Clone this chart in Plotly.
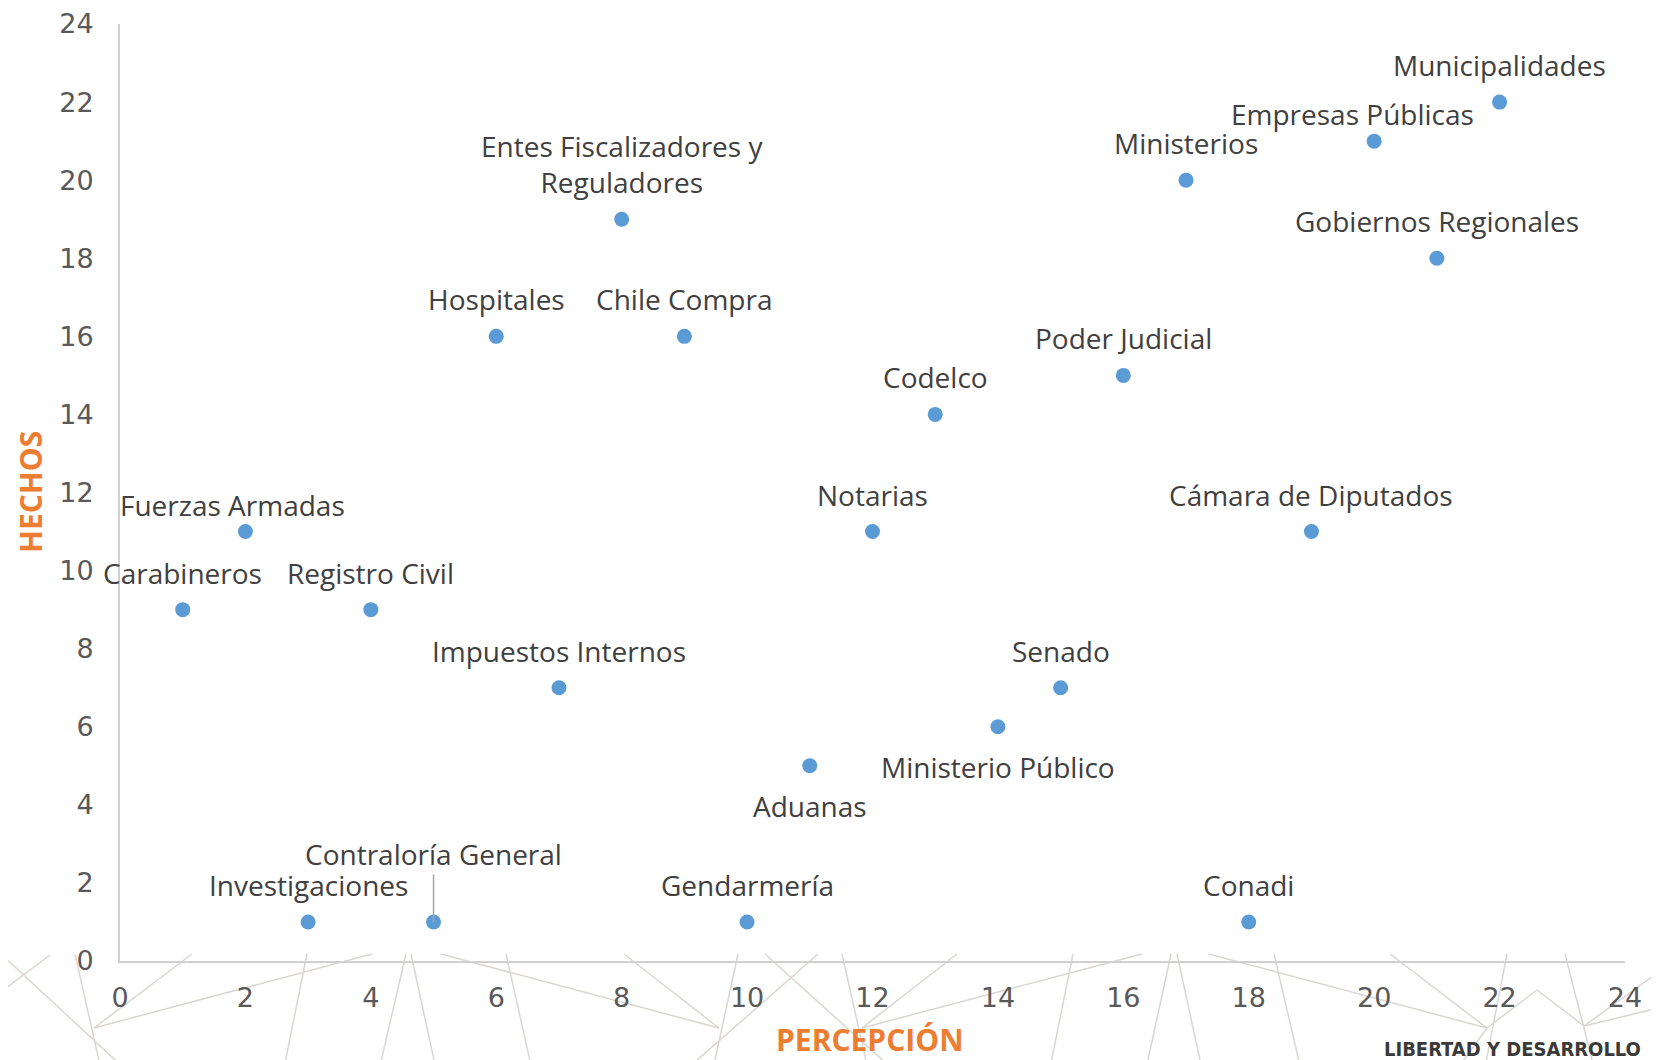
import plotly.graph_objects as go

# ---- data ----
names = ["Municipalidades", "Empresas Públicas", "Ministerios",
         "Entes Fiscalizadores y<br>Reguladores", "Gobiernos Regionales",
         "Hospitales", "Chile Compra", "Poder Judicial", "Codelco",
         "Fuerzas Armadas", "Notarias", "Cámara de Diputados",
         "Carabineros", "Registro Civil", "Impuestos Internos", "Senado",
         "Ministerio Público", "Aduanas", "Investigaciones",
         "Contraloría General", "Gendarmería", "Conadi"]
percepcion = [22, 20, 17, 8, 21, 6, 9, 16, 13, 2, 12, 19, 1, 4, 7, 15, 14, 11, 3, 5, 10, 18]
hechos = [22, 21, 20, 19, 18, 16, 16, 15, 14, 11, 11, 11, 9, 9, 7, 7, 6, 5, 1, 1, 1, 1]
x_ticks = list(range(0, 25, 2))
y_ticks = list(range(0, 25, 2))

# ---- layout constants ----
W, H = 1659, 1060
ML, MR, MT, MB = 112, 42, 16, 107
PW, PH = W - ML - MR, H - MT - MB

def px(x):
    return (x - ML) / PW

def py(y):
    return (H - MB - y) / PH

LABEL_FONT = dict(family="Open Sans, Noto Sans, sans-serif", size=28, color="#404040")
# label offsets (xshift, yshift) in pixels
default_off = (0, 37)
special_off = {
    "Fuerzas Armadas": (-13, 27),
    "Empresas Públicas": (-22, 27),
    "Ministerio Público": (0, -40),
    "Aduanas": (0, -40),
    "Entes Fiscalizadores y<br>Reguladores": (0, 55),
}

fig = go.Figure()
fig.add_trace(go.Scatter(
    x=percepcion, y=hechos, mode="markers",
    marker=dict(color="#5B9BD5", size=15, line=dict(width=0)),
    hoverinfo="text", text=names, showlegend=False, cliponaxis=False,
))

annotations = []
for n, xv, yv in zip(names, percepcion, hechos):
    if n == "Contraloría General":
        annotations.append(dict(
            x=xv, y=yv, xref="x", yref="y", text=n, showarrow=True,
            arrowhead=0, arrowwidth=1.5, arrowcolor="#A6A6A6",
            ax=0, ay=-68, standoff=0, font=LABEL_FONT))
        continue
    dx, dy = special_off.get(n, default_off)
    annotations.append(dict(
        x=xv, y=yv, xref="x", yref="y", text=n, showarrow=False,
        xshift=dx, yshift=dy, font=LABEL_FONT))

# axis titles
annotations.append(dict(
    x=px(22), y=py(484), xref="paper", yref="paper", text="<b>HECHOS</b>",
    textangle=-90, showarrow=False, xanchor="center", yanchor="middle",
    font=dict(family="Open Sans, sans-serif", size=30, color="#ED7D31")))
annotations.append(dict(
    x=px(862), y=py(1031), xref="paper", yref="paper", text="<b>PERCEPCIÓN</b>",
    showarrow=False, xanchor="center", yanchor="middle",
    font=dict(family="Open Sans, sans-serif", size=30, color="#ED7D31")))
# logo text
annotations.append(dict(
    x=px(1374), y=py(1027), xref="paper", yref="paper",
    text="<b>LIBERTAD Y DESARROLLO</b>", showarrow=False,
    xanchor="left", yanchor="top",
    font=dict(family="Liberation Sans Narrow, DejaVu Sans Condensed, Open Sans, sans-serif",
              size=20, color="#3A3A3A")))

# decorative background mesh (pixel coordinates)
DX, DY = -6, -5
deco = [
    ((0, 952), (138, 1060)), ((48, 952), (0, 988)), ((92, 1025), (190, 951)),
    ((92, 1025), (370, 951)), ((73, 951), (102, 1060)), ((305, 951), (279, 1060)),
    ((404, 951), (374, 1060)), ((409, 951), (437, 1060)), ((439, 951), (717, 1025)),
    ((504, 951), (533, 1060)), ((622, 951), (717, 1025)), ((736, 951), (708, 1060)),
    ((816, 951), (669, 1060)), ((763, 951), (906, 1060)), ((840, 951), (869, 1060)),
    ((955, 951), (860, 1025)), ((860, 1025), (1140, 951)), ((1071, 951), (1045, 1060)),
    ((1169, 951), (1141, 1060)), ((1175, 951), (1203, 1060)), ((1207, 951), (1485, 1025)),
    ((1272, 951), (1302, 1060)), ((1388, 951), (1485, 1025)), ((1505, 951), (1480, 1060)),
    ((1485, 1025), (1535, 987)), ((1535, 987), (1582, 1023)), ((1563, 951), (1596, 1060)),
    ((1582, 1023), (1665, 963)), ((1582, 1023), (1665, 1003)), ((1485, 1025), (1445, 1060)),
]
shapes = []
for (x0, y0), (x1, y1) in deco:
    y0e = y0 + DY if y0 < 1060 else 1075
    y1e = y1 + DY if y1 < 1060 else 1075
    shapes.append(dict(type="line", xref="paper", yref="paper",
                       x0=px(x0 + DX), y0=py(y0e), x1=px(x1 + DX), y1=py(y1e),
                       line=dict(color="#DAD6D2", width=1.5), layer="below"))

TICK_FONT = dict(family="DejaVu Sans, sans-serif", size=27, color="#595959")
fig.update_layout(
    width=W, height=H,
    margin=dict(l=ML, r=MR, t=MT, b=MB, autoexpand=False),
    paper_bgcolor="white", plot_bgcolor="rgba(0,0,0,0)",
    annotations=annotations, shapes=shapes,
    xaxis=dict(range=[0, 24], tickvals=x_ticks, ticktext=[str(v) for v in x_ticks],
               showgrid=False, zeroline=False, showline=True,
               linecolor="#D0D0D0", linewidth=2, ticks="outside", ticklen=12,
               tickcolor="rgba(0,0,0,0)", tickfont=TICK_FONT, fixedrange=True,
               ticklabeloverflow="allow"),
    yaxis=dict(range=[0, 24], tickvals=y_ticks, ticktext=[str(v) for v in y_ticks],
               showgrid=False, zeroline=False, showline=True,
               linecolor="#D0D0D0", linewidth=2, ticks="outside", ticklen=19,
               tickcolor="rgba(0,0,0,0)", tickfont=TICK_FONT, fixedrange=True,
               ticklabeloverflow="allow"),
)

fig.write_html("out.html")
